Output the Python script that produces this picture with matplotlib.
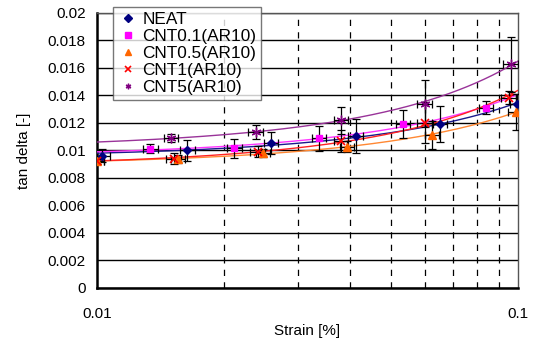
import numpy as np
import matplotlib
matplotlib.use("Agg")
import matplotlib.pyplot as plt
from matplotlib.ticker import FixedLocator, NullFormatter, FixedFormatter

plt.rcParams['font.family'] = ['Liberation Sans', 'DejaVu Sans']

# ---- data ----
neat_x = [0.0103, 0.0164, 0.0259, 0.0412, 0.0653, 0.0995]
neat_y = [0.00963, 0.01002, 0.01056, 0.01104, 0.0119, 0.0134]
neat_e = [0.0005, 0.00077, 0.0008, 0.00124, 0.0013, 0.0007]

c01_x = [0.0134, 0.0212, 0.0337, 0.0534, 0.084]
c01_y = [0.01012, 0.01015, 0.01088, 0.01192, 0.01312]
c01_e = [0.00034, 0.00067, 0.0009, 0.001, 0.0005]

c05_x = [0.0100, 0.0156, 0.0248, 0.0393, 0.0625, 0.0989]
c05_y = [0.0092, 0.0094, 0.00983, 0.01027, 0.01114, 0.0128]
c05_e = [0.0002, 0.0003, 0.0003, 0.0004, 0.001, 0.0013]

c1_x = [0.0100, 0.0152, 0.0241, 0.038, 0.060, 0.095]
c1_y = [0.0092, 0.0094, 0.0099, 0.01068, 0.01202, 0.01385]
c1_e = [0.0002, 0.0004, 0.0004, 0.0008, 0.0015, 0.0005]

c5_x = [0.0150, 0.0238, 0.038, 0.060, 0.0962]
c5_y = [0.01093, 0.01134, 0.01219, 0.01341, 0.01628]
c5_e = [0.0003, 0.0005, 0.001, 0.0017, 0.002]

labels = ['NEAT', 'CNT0.1(AR10)', 'CNT0.5(AR10)', 'CNT1(AR10)', 'CNT5(AR10)']
ytick_vals = [0, 0.002, 0.004, 0.006, 0.008, 0.01, 0.012, 0.014, 0.016, 0.018, 0.02]
ytick_labels = ['0', '0.002', '0.004', '0.006', '0.008', '0.01', '0.012', '0.014', '0.016', '0.018', '0.02']
xtick_vals = [0.01, 0.1]
xtick_labels = ['0.01', '0.1']

series = [
    (neat_x, neat_y, neat_e, '#000080', 'D', 4, '#1a1a8c', 1.0),
    (c01_x, c01_y, c01_e, '#FF00FF', 's', 5, '#FF33FF', 1.0),
    (c05_x, c05_y, c05_e, '#FF6600', '^', 6, '#FF8833', 1.0),
    (c1_x, c1_y, c1_e, '#FF0000', 'x', 6, '#FF2222', 1.2),
    (c5_x, c5_y, c5_e, '#800080', (6, 2, 0), 7, '#993399', 1.0),
]

fig = plt.figure(figsize=(5.34, 3.4), dpi=100)
ax = fig.add_axes([0.1816, 0.153, 0.7884, 0.809])
ax.set_xscale('log')
ax.set_xlim(0.01, 0.1)
ax.set_ylim(0, 0.02)

# grid
for v in ytick_vals:
    ax.axhline(v, color='black', lw=1.0, zorder=1)
for v in range(2, 10):
    ax.axvline(v * 0.01, color='black', lw=0.9, ls=(0, (5, 5)), zorder=1)

xfit = np.logspace(-2, -1, 200)
handles = []
for (x, y, e, c, m, ms, lc, mw) in series:
    x = np.array(x); y = np.array(y)
    b, a = np.polyfit(x, np.log(y), 1)
    ax.plot(xfit, np.exp(a) * np.exp(b * xfit), color=lc, lw=1.0, zorder=3)
    ax.errorbar(x, y, yerr=e, xerr=x * 0.04, fmt='none', ecolor='black',
                elinewidth=0.9, capsize=3, capthick=0.9, zorder=4)
    h, = ax.plot(x, y, ls='none', marker=m, color=c, markersize=ms,
                 markeredgecolor=c, mew=mw, zorder=5)
    handles.append(h)

ax.yaxis.set_major_locator(FixedLocator(ytick_vals))
ax.yaxis.set_major_formatter(FixedFormatter(ytick_labels))
ax.xaxis.set_major_locator(FixedLocator(xtick_vals))
ax.xaxis.set_major_formatter(FixedFormatter(xtick_labels))
ax.xaxis.set_minor_formatter(NullFormatter())
ax.tick_params(axis='both', which='both', length=0, labelsize=11)
ax.tick_params(axis='x', pad=14)
ax.tick_params(axis='y', pad=8)

for s in ax.spines.values():
    s.set_color('#555555')
    s.set_linewidth(1.0)
ax.spines['left'].set_color('black')
ax.spines['left'].set_linewidth(1.8)
ax.spines['bottom'].set_color('black')
ax.spines['bottom'].set_linewidth(1.8)

ax.set_xlabel('Strain [%]', fontsize=11, labelpad=2)
ax.set_ylabel('tan delta [-]', fontsize=11, labelpad=12)

leg = ax.legend(handles, labels, loc='upper left', bbox_to_anchor=(0.038, 1.02),
                fontsize=12.4, frameon=True, fancybox=False, borderpad=0.25,
                labelspacing=0.12, handlelength=1.2, handletextpad=0.25,
                borderaxespad=0)
leg.get_frame().set_edgecolor('#555555')
leg.get_frame().set_linewidth(1.0)
leg.set_zorder(10)
for h in leg.legend_handles:
    h.set_markersize(4)

fig.savefig('out.png', dpi=100)
